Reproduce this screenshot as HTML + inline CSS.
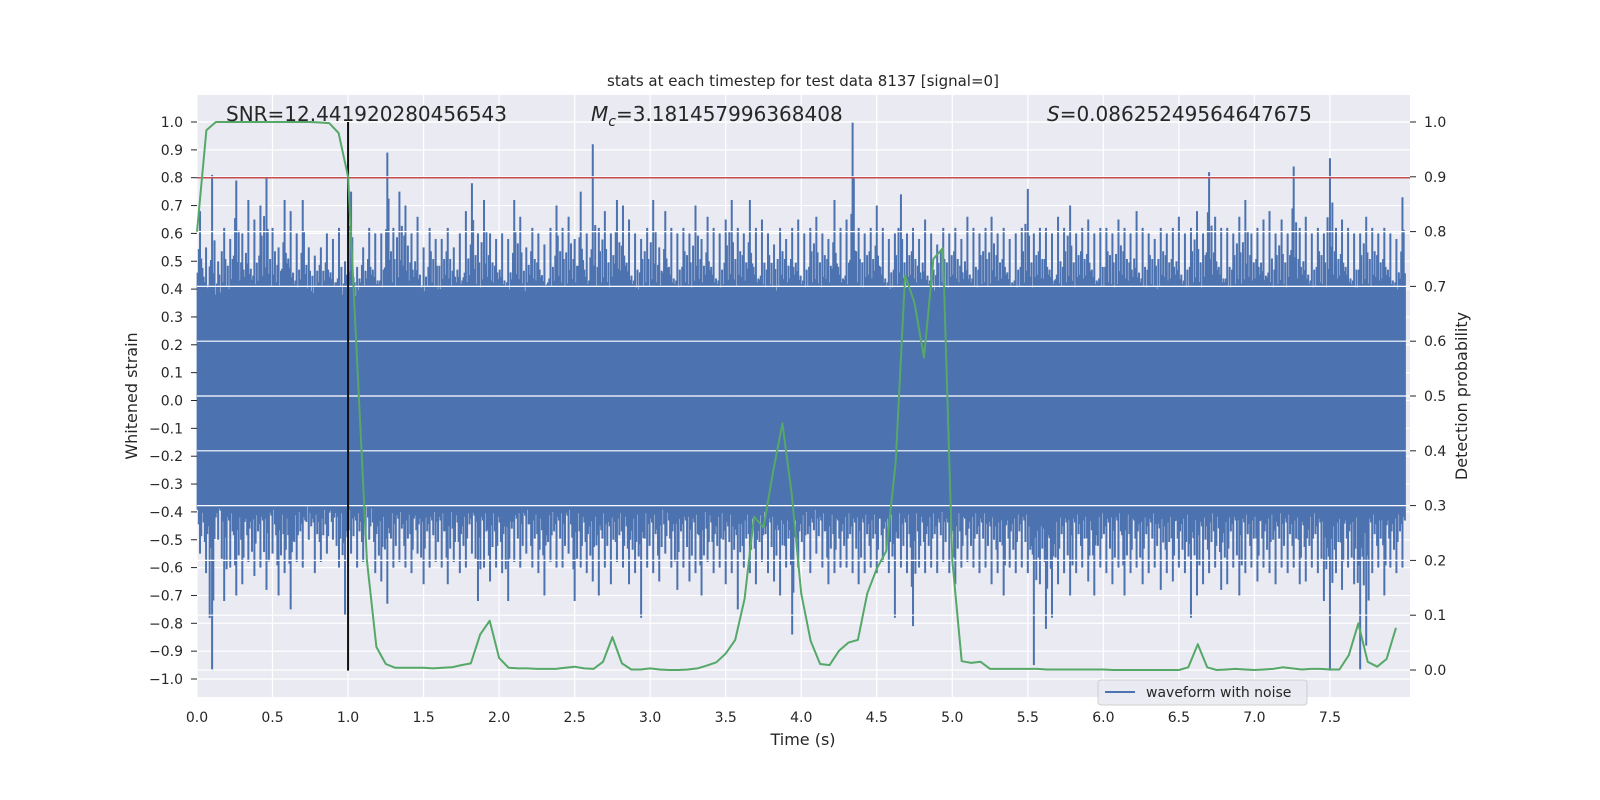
<!DOCTYPE html>
<html><head><meta charset="utf-8"><style>
body{margin:0;background:#fff;}
svg{display:block;font-family:"DejaVu Sans","Liberation Sans",sans-serif;}
</style></head><body>
<svg id="chart" width="1600" height="800" xmlns="http://www.w3.org/2000/svg">
<rect x="0" y="0" width="1600" height="800" fill="#fff"/>
<rect x="197" y="95" width="1213" height="602" fill="#EAEAF2"/>
<g id="gridBack"></g>
<g id="wave"></g>
<g id="gridFront"></g>
<g id="overlay"></g>
<text x="803" y="86" font-size="15" text-anchor="middle" fill="#262626">stats at each timestep for test data 8137 [signal=0]</text>
<text x="226" y="121" font-size="20" fill="#262626">SNR=12.441920280456543</text>
<text x="591" y="121" font-size="20" fill="#262626"><tspan font-style="italic">M</tspan><tspan font-style="italic" font-size="14" dy="5">c</tspan><tspan dy="-5">=3.181457996368408</tspan></text>
<text x="1047" y="121" font-size="20" fill="#262626"><tspan font-style="italic">S</tspan>=0.08625249564647675</text>
<text x="803" y="745" font-size="16" text-anchor="middle" fill="#262626">Time (s)</text>
<text transform="translate(137,396) rotate(-90)" font-size="16" text-anchor="middle" fill="#262626">Whitened strain</text>
<text transform="translate(1467,396) rotate(-90)" font-size="16" text-anchor="middle" fill="#262626">Detection probability</text>
<g>
<rect x="1098" y="680" width="209" height="25" rx="3" fill="#EAEAF2" stroke="#cccccc" stroke-width="1" opacity="0.9"/>
<line x1="1105" y1="692" x2="1135" y2="692" stroke="#4C72B0" stroke-width="2"/>
<text x="1146" y="697" font-size="14" fill="#262626">waveform with noise</text>
</g>
</svg>
<script>
const xTicks=[0,0.5,1,1.5,2,2.5,3,3.5,4,4.5,5,5.5,6,6.5,7,7.5];
const leftTicks=[-1,-0.9,-0.8,-0.7,-0.6,-0.5,-0.4,-0.3,-0.2,-0.1,0,0.1,0.2,0.3,0.4,0.5,0.6,0.7,0.8,0.9,1];
const rightTicks=[0,0.1,0.2,0.3,0.4,0.5,0.6,0.7,0.8,0.9,1];
const probStep=0.0625;
const probValues=[0.80,0.985,1,1,1,1,1,1,1,1,1,1,1,0.999,0.998,0.98,0.90,0.55,0.20,0.042,0.011,0.004,0.004,0.004,0.004,0.003,0.004,0.005,0.009,0.012,0.065,0.09,0.022,0.004,0.003,0.003,0.002,0.002,0.002,0.004,0.006,0.003,0.002,0.015,0.06,0.012,0.001,0.001,0.003,0.001,0,0,0.001,0.003,0.008,0.014,0.03,0.055,0.13,0.28,0.26,0.36,0.45,0.32,0.14,0.053,0.011,0.009,0.035,0.05,0.055,0.14,0.185,0.217,0.38,0.72,0.67,0.57,0.75,0.77,0.2,0.016,0.013,0.015,0.002,0.002,0.002,0.002,0.002,0.002,0.001,0.001,0.001,0.001,0.001,0.001,0.001,0,0,0,0,0,0,0,0,0.005,0.047,0.005,0,0.001,0.002,0.001,0,0.001,0.002,0.005,0.003,0.001,0.002,0.002,0.001,0.001,0.027,0.085,0.015,0.006,0.02,0.077];
const binWidth=0.04;
const waveHi=[.68,.55,.81,.5,.62,.58,.79,.6,.72,.65, .7,.8,.62,.55,.72,.68,.6,.72,.55,.52, .55,.6,.58,.62,.5,.75,.48,.55,.62,.6, .6,.89,.62,.75,.7,.6,.66,.55,.62,.58, .58,.62,.55,.6,.68,.78,.6,.72,.6,.58, .6,.58,.72,.66,.55,.62,.6,.56,.62,.7, .62,.66,.58,.75,.6,.92,.62,.68,.6,.72, .7,.65,.6,.58,.62,.72,.55,.68,.62,.6, .62,.6,.7,.58,.66,.62,.6,.65,.72,.62, .6,.72,.62,.65,.6,.56,.62,.58,.62,.65, .6,.62,.66,.6,.58,.72,.62,.65,1.0,.62, .6,.62,.7,.62,.58,.6,.74,.6,.62,.58, .65,.6,.56,.62,.6,.62,.58,.66,.62,.6, .62,.66,.6,.62,.58,.6,.62,.76,.6,.62, .62,.6,.66,.62,.7,.6,.62,.65,.6,.62, .62,.6,.65,.62,.6,.68,.62,.6,.58,.62, .6,.62,.66,.6,.62,.68,.6,.82,.66,.62, .62,.6,.66,.72,.6,.62,.65,.68,.6,.65, .6,.84,.62,.66,.6,.62,.6,.87,.62,.65, .62,.6,.6,.66,.62,.6,.62,.6,.58,.73];
const waveLo=[-.55,-.62,-.97,-.5,-.72,-.6,-.7,-.66,-.58,-.63, -.6,-.68,-.55,-.7,-.62,-.75,-.58,-.6,-.5,-.62, -.58,-.55,-.5,-.6,-.77,-.55,-.6,-.58,-.5,-.62, -.65,-.73,-.6,-.58,-.6,-.62,-.55,-.66,-.6,-.58, -.6,-.66,-.58,-.62,-.6,-.55,-.72,-.6,-.65,-.6, -.62,-.72,-.58,-.6,-.55,-.6,-.62,-.7,-.58,-.6, -.6,-.55,-.72,-.6,-.62,-.65,-.7,-.6,-.66,-.58, -.6,-.66,-.62,-.78,-.6,-.62,-.65,-.55,-.6,-.68, -.6,-.65,-.62,-.7,-.58,-.62,-.6,-.66,-.62,-.75, -.6,-.62,-.66,-.58,-.62,-.65,-.7,-.6,-.84,-.6, -.58,-.62,-.55,-.6,-.66,-.62,-.6,-.6,-.62,-.66, -.62,-.6,-.62,-.58,-.62,-.78,-.6,-.62,-.81,-.6, -.62,-.6,-.62,-.58,-.62,-.66,-.6,-.58,-.6,-.62, -.6,-.66,-.62,-.7,-.6,-.62,-.6,-.62,-.95,-.66, -.82,-.78,-.66,-.62,-.7,-.62,-.6,-.65,-.7,-.6, -.62,-.66,-.6,-.7,-.62,-.6,-.66,-.62,-.6,-.68, -.62,-.65,-.6,-.62,-.78,-.7,-.66,-.62,-.6,-.68, -.66,-.6,-.7,-.62,-.6,-.65,-.6,-.62,-.66,-.6, -.62,-.6,-.66,-.65,-.6,-.62,-.72,-.97,-.62,-.68, -.6,-.66,-.97,-.88,-.62,-.6,-.7,-.6,-.62,-.6];
const coreBand=[-0.34,0.34];
const thresholdLevel=0.8;
const markerTime=1.0;

const NS='http://www.w3.org/2000/svg';
const X=t=>197+t*151.06;
const YL=v=>400.5-v*278.5;
const YR=p=>670-p*548;
function mk(tag,attrs,parent){const e=document.createElementNS(NS,tag);for(const k in attrs)e.setAttribute(k,attrs[k]);parent.appendChild(e);return e;}
const svg=document.getElementById('chart');
const gb=document.getElementById('gridBack'),gw=document.getElementById('wave'),gf=document.getElementById('gridFront'),ov=document.getElementById('overlay');
const fmt=v=>(v<0?'\u2212':'')+Math.abs(v).toFixed(1);

xTicks.forEach(t=>{
  const l=mk('line',{x1:X(t),x2:X(t),y1:95,y2:697,stroke:'#fff','stroke-width':1.2},gb);
  
  
  const tx=mk('text',{x:X(t),y:722,'font-size':14,'text-anchor':'middle',fill:'#262626'},svg);
  tx.textContent=t.toFixed(1);
  
  
});
leftTicks.forEach(v=>{
  const l=mk('line',{x1:197,x2:1410,y1:YL(v),y2:YL(v),stroke:'#fff','stroke-width':1.2},gb);
  
  
  mk('line',{x1:191,x2:197,y1:YL(v),y2:YL(v),stroke:'#262626','stroke-width':1},svg);
  const tx=mk('text',{x:183,y:YL(v)+5,'font-size':14,'text-anchor':'end',fill:'#262626'},svg);
  tx.textContent=fmt(v);
  
  
});
rightTicks.forEach(p=>{
  const l=mk('line',{x1:197,x2:1410,y1:YR(p),y2:YR(p),stroke:'#fff','stroke-width':1.2},gf);
  
  
  mk('line',{x1:1410,x2:1416,y1:YR(p),y2:YR(p),stroke:'#262626','stroke-width':1},svg);
  const tx=mk('text',{x:1424,y:YR(p)+5,'font-size':14,fill:'#262626'},svg);
  tx.textContent=p.toFixed(1);
  
  
});
// waveform
const core=mk('rect',{x:X(0),y:YL(coreBand[1]),width:X(binWidth*waveHi.length)-X(0),height:YL(coreBand[0])-YL(coreBand[1]),fill:'#4C72B0'},gw);


const subOffsets=[0.1,0.3,0.5,0.7,0.9];
const subFrac=[0.35,0.6,0.25,0.5,0.4,0.7,0.3];
waveHi.forEach((h,i)=>{
  subOffsets.forEach((o,k)=>{
    const t=(i+o)*binWidth;
    const fh=k===2?1:subFrac[(i*3+k)%subFrac.length];
    const fl=k===2?1:subFrac[(i*5+k+2)%subFrac.length];
    const l=mk('line',{x1:X(t),x2:X(t),y1:YL(coreBand[1]+(h-coreBand[1])*fh),y2:YL(coreBand[0]+(waveLo[i]-coreBand[0])*fl),stroke:'#4C72B0','stroke-width':2},gw);
    
    
  });
});
// threshold line
const th=mk('line',{x1:197,x2:1410,y1:YL(thresholdLevel),y2:YL(thresholdLevel),stroke:'#C44E52','stroke-width':1.5},ov);


const mline=mk('line',{x1:X(markerTime),x2:X(markerTime),y1:YL(1.0),y2:YL(-0.97),stroke:'#111','stroke-width':2},ov);


const pts=probValues.map((p,i)=>X(i*probStep).toFixed(1)+','+YR(p).toFixed(1)).join(' ');
const pl=mk('polyline',{points:pts,fill:'none',stroke:'#55A868','stroke-width':2,'stroke-linejoin':'round'},ov);


</script>
</body></html>
